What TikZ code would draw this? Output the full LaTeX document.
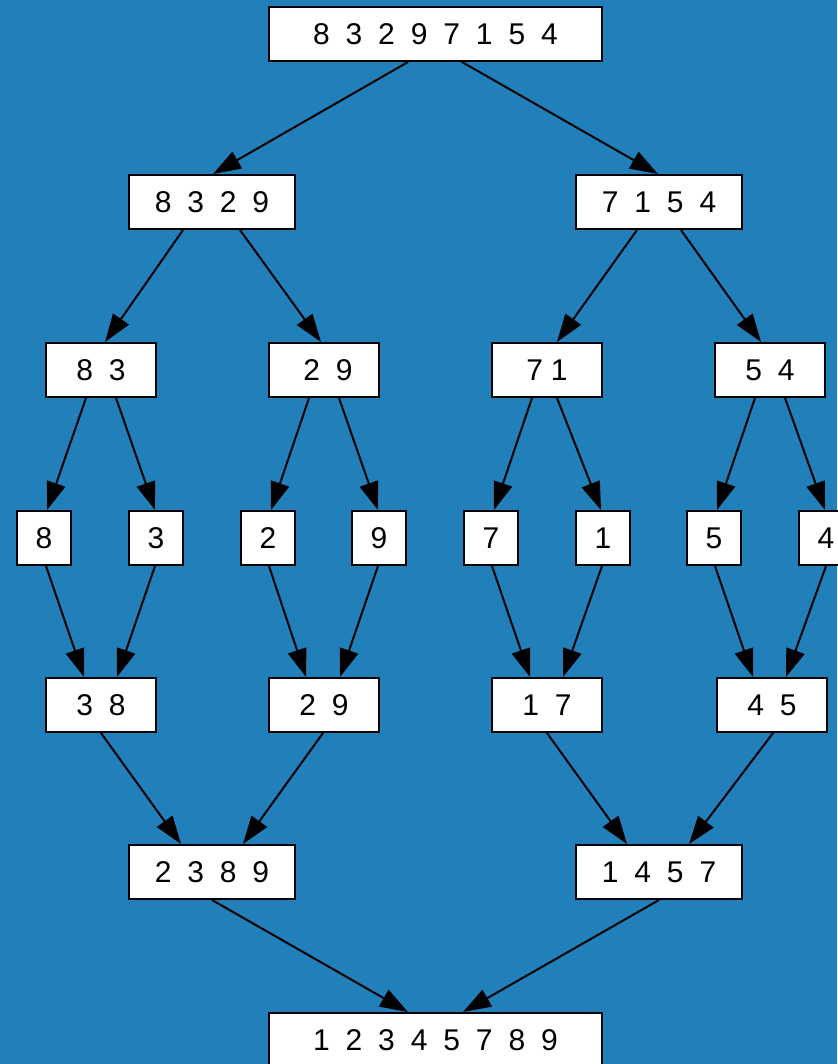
\documentclass[tikz,border=0pt]{standalone}
\usepackage{fontspec}
\setmainfont{Liberation Sans}
\usetikzlibrary{arrows.meta}
\definecolor{bg}{RGB}{33,128,185}
\newcommand{\dsp}{\hspace{0.53em}}
\newcommand{\ssp}{\hspace{0.265em}}
\tikzset{
  box/.style={draw=black, fill=white, line width=2pt, inner sep=0pt,
    minimum height=54pt, font=\fontsize{30}{35}\selectfont},
  wbox/.style={box, minimum width=333pt},
  mbox/.style={box, minimum width=166pt},
  sbox/.style={box, minimum width=110pt},
  leaf/.style={box, minimum width=54pt},
  edge/.style={line width=2pt, -{Triangle[length=28pt,width=19pt]}}
}
\begin{document}
\begin{tikzpicture}[x=1pt,y=-1pt]
\fill[bg] (0,0) rectangle (837,1064);
\useasboundingbox (0,0) rectangle (837,1064);
% nodes
\node[wbox] (top) at (435.5,34) {8\dsp 3\dsp 2\dsp 9\dsp 7\dsp 1\dsp 5\dsp 4};
\node[mbox] (la) at (212,202) {8\dsp 3\dsp 2\dsp 9};
\node[mbox] (lb) at (659,202) {7\dsp 1\dsp 5\dsp 4};
\node[sbox] (ma) at (101,370) {8\dsp 3};
\node[sbox] (mb) at (324,370) {\ssp 2\dsp 9};
\node[sbox] (mc) at (547,370) {7\ssp 1};
\node[sbox] (md) at (770,370) {5\dsp 4};
\node[leaf] (e8) at (44,538) {8};
\node[leaf] (e3) at (156,538) {3};
\node[leaf] (e2) at (268,538) {2};
\node[leaf] (e9) at (379,538) {9};
\node[leaf] (e7) at (491,538) {7};
\node[leaf] (e1) at (603,538) {1};
\node[leaf] (e5) at (714,538) {5};
\node[leaf] (e4) at (826,538) {4};
\node[sbox] (ra) at (101,705) {3\dsp 8};
\node[sbox] (rb) at (324,705) {2\dsp 9};
\node[sbox] (rc) at (547,705) {1\dsp 7};
\node[sbox] (rd) at (772,705) {4\dsp 5};
\node[mbox] (sa) at (212,872) {2\dsp 3\dsp 8\dsp 9};
\node[mbox] (sb) at (659,872) {1\dsp 4\dsp 5\dsp 7};
\node[wbox] (bot) at (435.5,1040) {1\dsp 2\dsp 3\dsp 4\dsp 5\dsp 7\dsp 8\dsp 9};
% edges
\draw[edge] ([xshift=-27.5pt]top.south) -- ([xshift=1pt]la.north);
\draw[edge] ([xshift=26.5pt]top.south) -- ([xshift=-1pt]lb.north);
\draw[edge] ([xshift=-29pt]la.south) -- ([xshift=4pt]ma.north);
\draw[edge] ([xshift=28pt]la.south) -- ([xshift=-3pt]mb.north);
\draw[edge] ([xshift=-22pt]lb.south) -- ([xshift=10pt]mc.north);
\draw[edge] ([xshift=22pt]lb.south) -- ([xshift=-9pt]md.north);
\draw[edge] ([xshift=-15pt]ma.south) -- ([xshift=3pt]e8.north);
\draw[edge] ([xshift=15pt]ma.south) -- ([xshift=-1pt]e3.north);
\draw[edge] ([xshift=-15pt]mb.south) -- ([xshift=3pt]e2.north);
\draw[edge] ([xshift=15pt]mb.south) -- ([xshift=-1pt]e9.north);
\draw[edge] ([xshift=-15pt]mc.south) -- ([xshift=3pt]e7.north);
\draw[edge] ([xshift=10pt]mc.south) -- ([xshift=-2pt]e1.north);
\draw[edge] ([xshift=-15pt]md.south) -- ([xshift=3pt]e5.north);
\draw[edge] ([xshift=15pt]md.south) -- ([xshift=-1pt]e4.north);
\draw[edge] ([xshift=2pt]e8.south) -- ([xshift=-17pt]ra.north);
\draw[edge] ([xshift=-1pt]e3.south) -- ([xshift=16pt]ra.north);
\draw[edge] ([xshift=1pt]e2.south) -- ([xshift=-18pt]rb.north);
\draw[edge] ([xshift=-1pt]e9.south) -- ([xshift=16pt]rb.north);
\draw[edge] ([xshift=1pt]e7.south) -- ([xshift=-17pt]rc.north);
\draw[edge] ([xshift=-1pt]e1.south) -- ([xshift=16pt]rc.north);
\draw[edge] ([xshift=1pt]e5.south) -- ([xshift=-19pt]rd.north);
\draw[edge] (e4.south) -- ([xshift=14pt]rd.north);
\draw[edge] (ra.south) -- ([xshift=-31pt]sa.north);
\draw[edge] ([xshift=-1pt]rb.south) -- ([xshift=31pt]sa.north);
\draw[edge] (rc.south) -- ([xshift=-32pt]sb.north);
\draw[edge] ([xshift=1pt]rd.south) -- ([xshift=30pt]sb.north);
\draw[edge] (sa.south) -- ([xshift=-27.5pt]bot.north);
\draw[edge] (sb.south) -- ([xshift=27.5pt]bot.north);
\end{tikzpicture}
\end{document}
